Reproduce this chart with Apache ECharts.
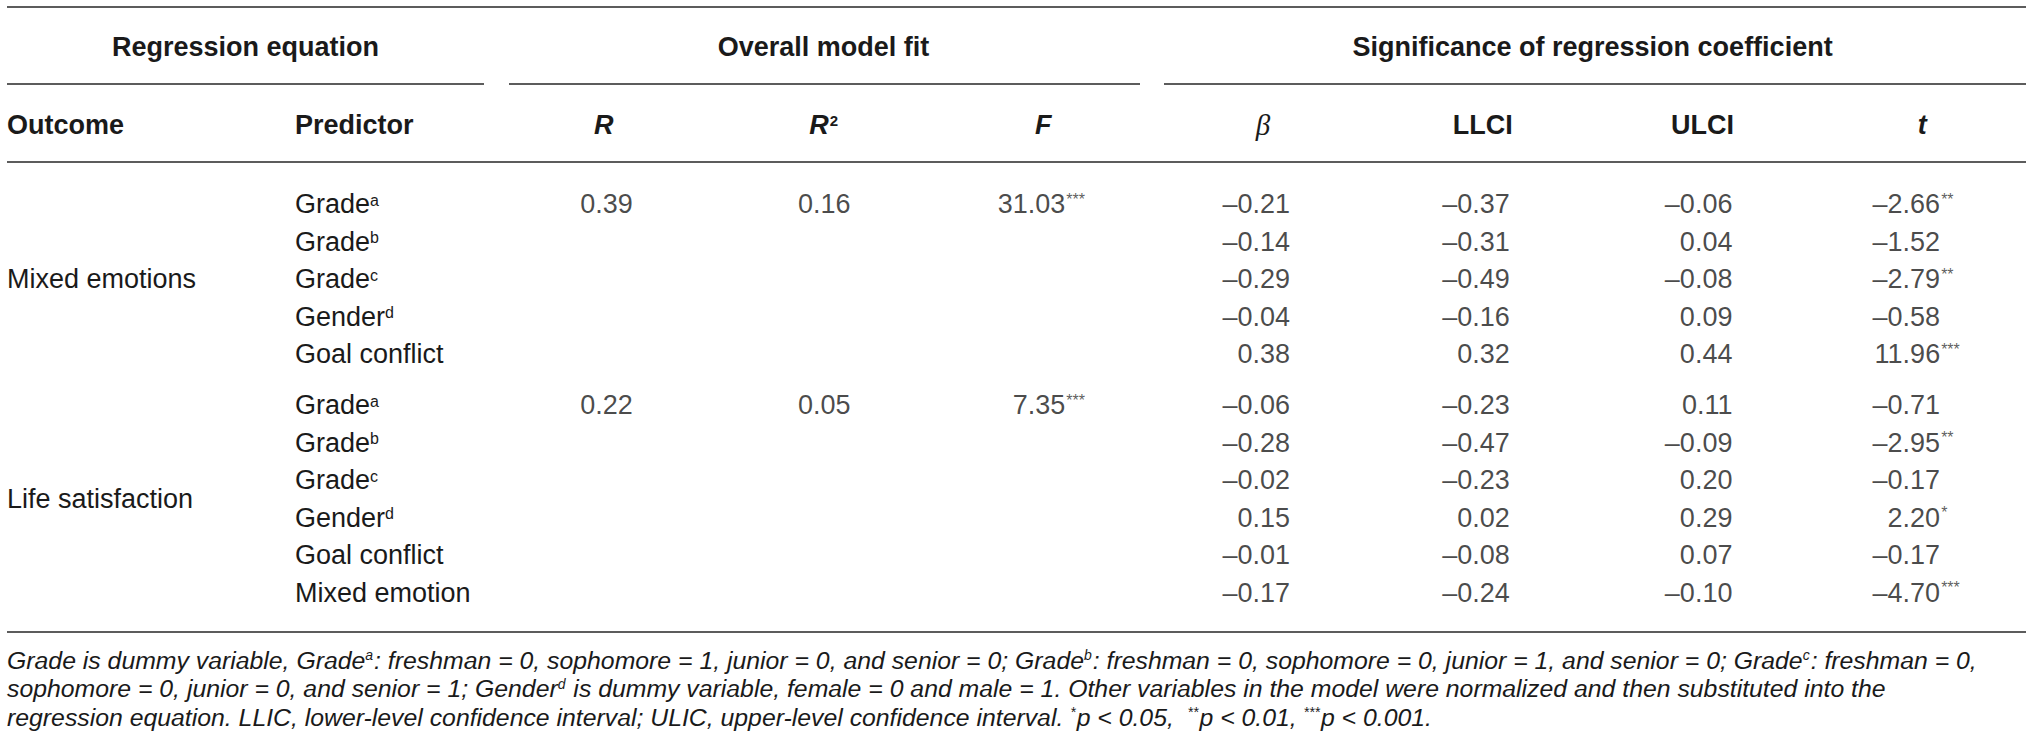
<!DOCTYPE html>
<html>
<head>
<meta charset="utf-8">
<title>Regression table</title>
<script src="https://cdn.jsdelivr.net/npm/echarts@6/dist/echarts.min.js"></script>
<style>
  html, body { margin: 0; padding: 0; background: #fff; }
  #main { width: 2032px; height: 756px; }
</style>
</head>
<body>
<div id="main"></div>
<script>
// column keys (header text is built in headText below)
var columns = ['R', 'R2', 'F', 'beta', 'LLCI', 'ULCI', 't'];

// outcome: Mixed emotions
var mixedPredictors = ['Grade^a', 'Grade^b', 'Grade^c', 'Gender^d', 'Goal conflict'];
var mixedR = [0.39];
var mixedR2 = [0.16];
var mixedF = [31.03];
var mixedFSig = [3];
var mixedBeta = [-0.21, -0.14, -0.29, -0.04, 0.38];
var mixedLLCI = [-0.37, -0.31, -0.49, -0.16, 0.32];
var mixedULCI = [-0.06, 0.04, -0.08, 0.09, 0.44];
var mixedT = [-2.66, -1.52, -2.79, -0.58, 11.96];
var mixedTSig = [2, 0, 2, 0, 3];

// outcome: Life satisfaction
var lifePredictors = ['Grade^a', 'Grade^b', 'Grade^c', 'Gender^d', 'Goal conflict', 'Mixed emotion'];
var lifeR = [0.22];
var lifeR2 = [0.05];
var lifeF = [7.35];
var lifeFSig = [3];
var lifeBeta = [-0.06, -0.28, -0.02, 0.15, -0.01, -0.17];
var lifeLLCI = [-0.23, -0.47, -0.23, 0.02, -0.08, -0.24];
var lifeULCI = [0.11, -0.09, 0.20, 0.29, 0.07, -0.10];
var lifeT = [-0.71, -2.95, -0.17, 2.20, -0.17, -4.70];
var lifeTSig = [0, 2, 0, 1, 0, 3];

var footnote = [
  'Grade is dummy variable, Grade{sup|a}: freshman = 0, sophomore = 1, junior = 0, and senior = 0; Grade{sup|b}: freshman = 0, sophomore = 0, junior = 1, and senior = 0; Grade{sup|c}: freshman = 0,',
  'sophomore = 0, junior = 0, and senior = 1; Gender{sup|d} is dummy variable, female = 0 and male = 1. Other variables in the model were normalized and then substituted into the',
  'regression equation. LLIC, lower-level confidence interval; ULIC, upper-level confidence interval. {sup|*}p < 0.05,  {sup|**}p < 0.01, {sup|***}p < 0.001.'
];

// layout
var W = 2032;
var FONT = "'Liberation Sans', Arial, Helvetica, sans-serif";
var TEXT = '#1a1a1a';
var RULE = '#5c5c5c';
var GRID_LEFT = 494;
var ROW_H = 37.5;
var TOPS = [185.25, 386.25];
var NUM_SHIFT = [29, 27, 22, 27, 27, 30, 18];   // right edge of numbers from column centre
var TABLE_L = 7, TABLE_R = 2026;

var colW = (W - GRID_LEFT) / columns.length;

function fmt(v) {
  return (v < 0 ? '\u2013' : '') + Math.abs(v).toFixed(2);
}
function stars(n) {
  return n ? '***'.slice(0, n) : '';
}
function predLabel(s) {
  var p = s.split('^');
  return p.length > 1 ? p[0] + '{sup|' + p[1] + '}' : s;
}

var headRich = {
  b: { fontWeight: 'bold', fontSize: 27, fontFamily: FONT, color: TEXT, lineHeight: 30 },
  bi: { fontWeight: 'bold', fontStyle: 'italic', fontSize: 27, fontFamily: FONT, color: TEXT, lineHeight: 30 },
  gi: { fontStyle: 'italic', fontSize: 29, fontFamily: "'Liberation Serif', serif", color: TEXT, lineHeight: 30 },
  sup: { fontWeight: 'bold', fontSize: 15, fontFamily: FONT, color: TEXT, verticalAlign: 'top', lineHeight: 30, padding: [3, 0, 0, 1] }
};
var headText = {
  R: '{bi|R}', R2: '{bi|R}{sup|2}', F: '{bi|F}', beta: '{gi|\u03b2}',
  LLCI: '{b|LLCI}', ULCI: '{b|ULCI}', t: '{bi|t}'
};

var blocks = [
  {
    outcome: 'Mixed emotions', predictors: mixedPredictors,
    cols: [[mixedR], [mixedR2], [mixedF, mixedFSig], [mixedBeta], [mixedLLCI], [mixedULCI], [mixedT, mixedTSig]]
  },
  {
    outcome: 'Life satisfaction', predictors: lifePredictors,
    cols: [[lifeR], [lifeR2], [lifeF, lifeFSig], [lifeBeta], [lifeLLCI], [lifeULCI], [lifeT, lifeTSig]]
  }
];

function cellSeries(k, c, data, label) {
  return {
    type: 'scatter',
    xAxisIndex: k,
    yAxisIndex: k,
    symbolSize: 1,
    silent: true,
    itemStyle: { color: 'rgba(0,0,0,0)' },
    data: data,
    label: label
  };
}

var series = [];
blocks.forEach(function (b, k) {
  b.cols.forEach(function (col, c) {
    var vals = col[0], sig = col[1] || [];
    // numbers, right aligned so the decimals line up
    series.push(cellSeries(k, c, vals.map(function (v, i) {
      return { value: [c, i], txt: fmt(v) };
    }), {
      show: true, position: 'inside', align: 'right', verticalAlign: 'middle',
      offset: [NUM_SHIFT[c], 0],
      fontSize: 27, fontFamily: FONT, color: TEXT,
      formatter: function (p) { return p.data.txt; }
    }));
    // significance stars as superscripts after the number
    var starData = [];
    sig.forEach(function (n, i) {
      if (n) starData.push({ value: [c, i], txt: stars(n) });
    });
    if (starData.length) {
      series.push(cellSeries(k, c, starData, {
        show: true, position: 'inside', align: 'left', verticalAlign: 'middle',
        offset: [NUM_SHIFT[c] + 1, -5],
        fontSize: 16, fontFamily: FONT, color: '#333',
        formatter: function (p) { return p.data.txt; }
      }));
    }
  });
});

var hline = function (x1, x2, y) {
  return { type: 'line', silent: true, shape: { x1: x1, y1: y, x2: x2, y2: y },
           style: { stroke: RULE, lineWidth: 2 } };
};
var htext = function (text, x, y, align) {
  return { type: 'text', x: x, y: y, silent: true,
           style: { text: text, align: align, verticalAlign: 'middle', fill: TEXT,
                    fontSize: 27, fontWeight: 'bold', fontFamily: FONT } };
};

var option = {
  animation: false,
  backgroundColor: '#fff',
  grid: blocks.map(function (b, k) {
    return { left: GRID_LEFT, right: 0, top: TOPS[k], height: b.predictors.length * ROW_H };
  }),
  xAxis: blocks.map(function (b, k) {
    return {
      type: 'category', gridIndex: k, data: columns, position: 'top',
      axisLine: { show: false }, axisTick: { show: false }, splitLine: { show: false },
      axisLabel: k === 0 ? {
        show: true, interval: 0, margin: TOPS[0] - 125, verticalAlign: 'middle',
        formatter: function (v) { return headText[v]; }, rich: headRich
      } : { show: false }
    };
  }),
  yAxis: blocks.map(function (b, k) {
    return {
      type: 'category', gridIndex: k, inverse: true, data: b.predictors,
      axisLine: { show: false }, axisTick: { show: false }, splitLine: { show: false },
      axisLabel: {
        interval: 0, align: 'left', margin: GRID_LEFT - 295,
        color: TEXT, fontSize: 27, fontFamily: FONT, lineHeight: 30,
        formatter: predLabel,
        rich: { sup: { fontSize: 16, fontFamily: FONT, color: TEXT, verticalAlign: 'top', lineHeight: 30, padding: [3, 0, 0, 0] } }
      },
      name: b.outcome, nameLocation: 'middle', nameGap: GRID_LEFT - TABLE_L, nameRotate: 0,
      nameMoveOverlap: false,
      nameTextStyle: { align: 'left', verticalAlign: 'middle', color: TEXT, fontSize: 27, fontFamily: FONT }
    };
  }),
  series: series,
  graphic: [
    hline(TABLE_L, TABLE_R, 7),
    hline(TABLE_L, 484, 84),
    hline(509, 1140, 84),
    hline(1164, TABLE_R, 84),
    hline(TABLE_L, TABLE_R, 162),
    hline(TABLE_L, TABLE_R, 632),
    htext('Regression equation', (TABLE_L + 484) / 2, 47, 'center'),
    htext('Overall model fit', GRID_LEFT + colW * 1.5, 47, 'center'),
    htext('Significance of regression coefficient', GRID_LEFT + colW * 5, 47, 'center'),
    htext('Outcome', TABLE_L, 125, 'left'),
    htext('Predictor', 295, 125, 'left'),
    {
      type: 'text', x: TABLE_L, y: 646, silent: true,
      style: {
        text: footnote.join('\n'), align: 'left', verticalAlign: 'top', fill: TEXT,
        fontSize: 24.8, fontStyle: 'italic', fontFamily: FONT, lineHeight: 28.5,
        rich: { sup: { fontSize: 14, fontStyle: 'italic', fontFamily: FONT, fill: TEXT, color: TEXT,
                       verticalAlign: 'top', lineHeight: 28.5, padding: [2, 1, 0, 0] } }
      }
    }
  ]
};

var chart = echarts.init(document.getElementById('main'), null, { renderer: 'svg' });
chart.setOption(option);
</script>
</body>
</html>
